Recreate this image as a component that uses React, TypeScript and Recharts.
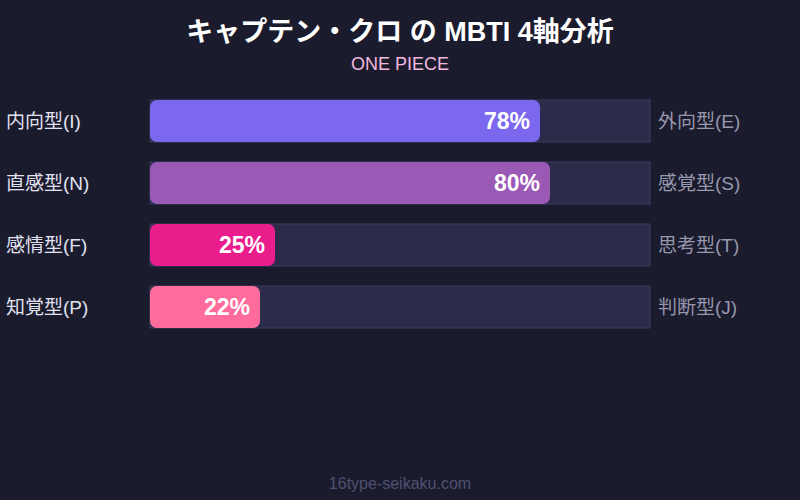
import React from "react";
import { BarChart, Bar, XAxis, YAxis, Cell, LabelList } from "recharts";

const leftLabels = ["内向型(I)", "直感型(N)", "感情型(F)", "知覚型(P)"];
const rightLabels = ["外向型(E)", "感覚型(S)", "思考型(T)", "判断型(J)"];
const percents = [78, 80, 25, 22];
const barColors = ["#7b68ee", "#9b59b6", "#e91e8c", "#ff6b9d"];

const data = leftLabels.map((l, i) => ({ left: l, right: rightLabels[i], value: percents[i] }));

const FONT = "'Liberation Sans', 'Noto Sans CJK JP', sans-serif";

const AxisTick = ({ y, payload, index }: any) => (
    <g>
        <text x={6} y={y} dy={7} fill="#e2e2f0" fontSize={19} fontFamily={FONT} textAnchor="start">
            {payload.value}
        </text>
        <text x={658} y={y} dy={7} fill="#9797ad" fontSize={19} fontFamily={FONT} textAnchor="start">
            {rightLabels[index]}
        </text>
    </g>
);

const PercentLabel = ({ x, y, width, height, value }: any) => (
    <text
        x={x + width - 10}
        y={y + height / 2}
        dy={8}
        fill="#ffffff"
        fontSize={23}
        fontWeight={700}
        fontFamily={FONT}
        textAnchor="end"
    >
        {value}%
    </text>
);

export default function App() {
    return (
        <div style={{ position: "fixed", top: 0, left: 0, width: 800, height: 500, background: "#1b1b2e", fontFamily: FONT }}>
            <div style={{ position: "absolute", top: 19, left: 0, width: 800, textAlign: "center", color: "#ffffff", fontSize: 27, lineHeight: "27px", fontWeight: 700 }}>
                キャプテン・クロ の MBTI 4軸分析
            </div>
            <div style={{ position: "absolute", top: 55, left: 0, width: 800, textAlign: "center", color: "#f2b8de", fontSize: 18, lineHeight: "18px" }}>
                ONE PIECE
            </div>
            <div style={{ position: "absolute", top: 0, left: 0 }}>
                <BarChart
                    width={800}
                    height={500}
                    data={data}
                    layout="vertical"
                    margin={{ top: 90, right: 150, bottom: 162, left: 0 }}
                    barCategoryGap={10}
                >
                    <XAxis type="number" domain={[0, 100]} hide />
                    <YAxis
                        type="category"
                        dataKey="left"
                        width={150}
                        axisLine={false}
                        tickLine={false}
                        tick={<AxisTick />}
                        interval={0}
                    />
                    <Bar
                        dataKey="value"
                        isAnimationActive={false}
                        barSize={42}
                        radius={7}
                        background={{ fill: "#2d2b4a", stroke: "#3f3e62", strokeWidth: 1, radius: 0 }}
                    >
                        {data.map((d, i) => (
                            <Cell key={d.left} fill={barColors[i]} />
                        ))}
                        <LabelList dataKey="value" content={<PercentLabel />} />
                    </Bar>
                </BarChart>
            </div>
            <div style={{ position: "absolute", top: 476, left: 0, width: 800, textAlign: "center", color: "#4f5170", fontSize: 16, lineHeight: "16px" }}>
                16type-seikaku.com
            </div>
        </div>
    );
}
